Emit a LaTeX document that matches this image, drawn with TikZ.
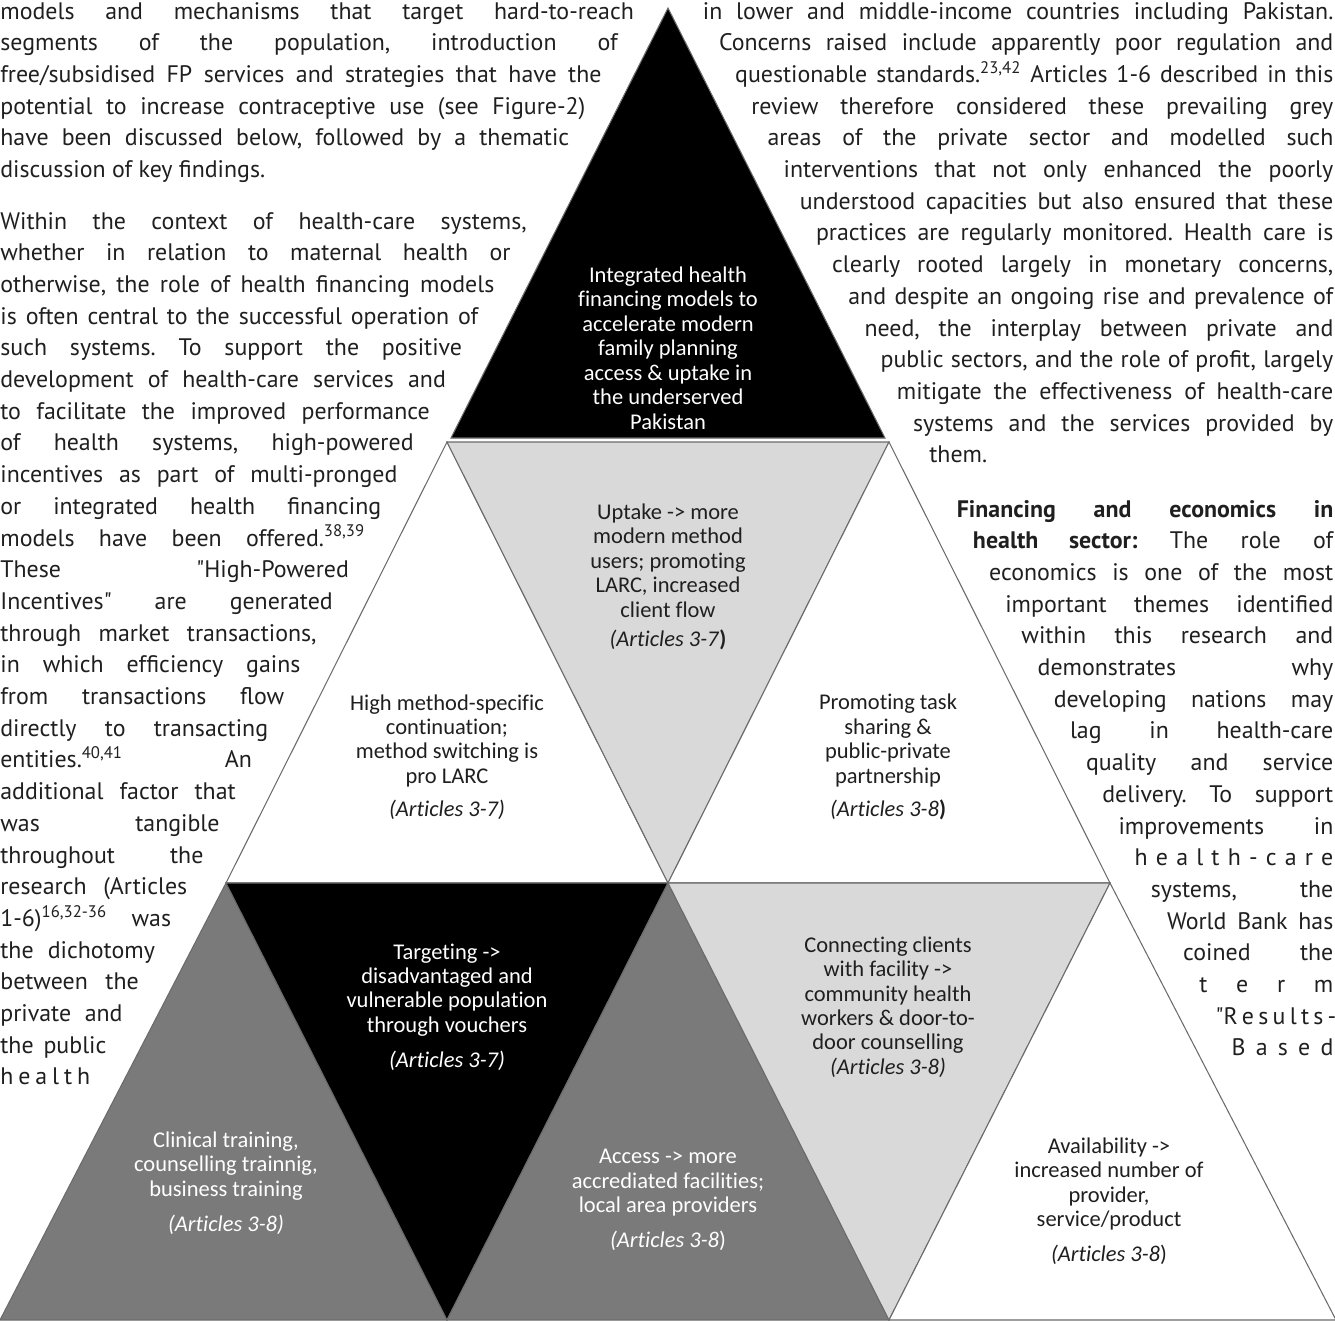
\documentclass[tikz,border=0pt]{standalone}
\usepackage{fontspec}
\setmainfont{PT Sans}
\newfontfamily\cellfont[Ligatures=NoCommon]{Carlito}
\newlength{\pxu}
\setlength{\pxu}{0.02cm}
\frenchspacing
\definecolor{cellblack}{gray}{0}
\definecolor{celldark}{gray}{0.48}
\definecolor{celllight}{gray}{0.85}
\definecolor{celledge}{gray}{0.42}
\definecolor{bodytext}{gray}{0.12}
\tikzset{
  cell/.style={draw=celledge, line width=0.6pt},
  bodyrow/.style={inner sep=0pt, anchor=base west, text=bodytext, font=\fontsize{13.6}{16}\selectfont},
  celltext/.style={align=center, inner sep=0pt, font=\cellfont\fontsize{12.8}{13.9}\selectfont},
}
\begin{document}
\begin{tikzpicture}[x=0.02cm, y=-0.02cm]
      \useasboundingbox (0,0) rectangle (1335,1320);
      \coordinate (a) at (668,8);
      \coordinate (b1) at (451,438);
      \coordinate (b2) at (885,438);
      \coordinate (c1) at (447,442);
      \coordinate (c2) at (889,442);
      \coordinate (d1) at (226,883);
      \coordinate (d2) at (668,883);
      \coordinate (d3) at (1110,883);
      \coordinate (e1) at (0,1320);
      \coordinate (e2) at (447,1320);
      \coordinate (e3) at (889,1320);
      \coordinate (e4) at (1336,1320);
      \filldraw[cell, fill=cellblack] (a) -- (b1) -- (b2) -- cycle;
      \filldraw[cell, fill=white] (c1) -- (d1) -- (d2) -- cycle;
      \filldraw[cell, fill=celllight] (c1) -- (c2) -- (d2) -- cycle;
      \filldraw[cell, fill=white] (c2) -- (d2) -- (d3) -- cycle;
      \filldraw[cell, fill=celldark] (d1) -- (e1) -- (e2) -- cycle;
      \filldraw[cell, fill=cellblack] (d1) -- (d2) -- (e2) -- cycle;
      \filldraw[cell, fill=celldark] (d2) -- (e2) -- (e3) -- cycle;
      \filldraw[cell, fill=celllight] (d2) -- (d3) -- (e3) -- cycle;
      \filldraw[cell, fill=white] (d3) -- (e3) -- (e4) -- cycle;
      \node[celltext, text=white] (goal) at (668,348) {Integrated health\\financing models to\\accelerate modern\\family planning\\access \& uptake in\\the underserved\\Pakistan};
      \node[celltext, text=bodytext] (uptake) at (668,577) {Uptake -> more\\modern method\\users; promoting\\LARC, increased\\client flow\\[3pt]\textit{(Articles 3-7}\textbf{)}};
      \node[celltext, text=bodytext] (continuation) at (447,757) {High method-specific\\continuation;\\method switching is\\pro LARC\\[5pt]\textit{(Articles 3-7)}};
      \node[celltext, text=bodytext] (tasksharing) at (888,757) {Promoting task\\sharing \&\\public-private\\partnership\\[5pt]\textit{(Articles 3-8}\textbf{)}};
      \node[celltext, text=white] (training) at (226,1183) {Clinical training,\\counselling trainnig,\\business training\\[6pt]\textit{(Articles 3-8)}};
      \node[celltext, text=white] (targeting) at (447,1007) {Targeting ->\\disadvantaged and\\vulnerable population\\through vouchers\\[6pt]\textit{(Articles 3-7)}};
      \node[celltext, text=white] (access) at (668,1200) {Access -> more\\accrediated facilities;\\local area providers\\[6pt]\textit{(Articles 3-8})};
      \node[celltext, text=bodytext] (connecting) at (888,1007) {Connecting clients\\with facility ->\\community health\\workers \& door-to-\\door counselling\\\textit{(Articles 3-8)}};
      \node[celltext, text=bodytext] (availability) at (1109,1201) {Availability ->\\increased number of\\provider,\\service/product\\[6pt]\textit{(Articles 3-8})};
      \foreach \txt [count=\n from 0] in {
          {models and mechanisms that target hard-to-reach},
          {segments of the population, introduction of},
          {free/subsidised FP services and strategies that have the},
          {potential to increase contraceptive use (see Figure-2)},
          {have been discussed below, followed by a thematic}}{
        \pgfmathsetmacro{\yb}{19+31.7*\n}
        \pgfmathsetmacro{\rowwidth}{643.2-0.51*\yb}
        \node[bodyrow] (la\n) at (0,\yb) {\makebox[\rowwidth\pxu][s]{\txt}};
      }
      \node[bodyrow] (la5) at (0,177.5) {discussion of key findings.};
      \foreach \txt [count=\n from 0] in {
          {Within the context of health-care systems,},
          {whether in relation to maternal health or},
          {otherwise, the role of health financing models},
          {is often central to the successful operation of},
          {such systems. To support the positive},
          {development of health-care services and},
          {to facilitate the improved performance},
          {of health systems, high-powered},
          {incentives as part of multi-pronged},
          {or integrated health financing},
          {models have been offered.\textsuperscript{38,39}},
          {These \textquotedbl High-Powered},
          {Incentives\textquotedbl{} are generated},
          {through market transactions,},
          {in which efficiency gains},
          {from transactions flow},
          {directly to transacting},
          {entities.\textsuperscript{40,41} An},
          {additional factor that},
          {was tangible},
          {throughout the},
          {research (Articles},
          {1-6)\textsuperscript{16,32-36} was},
          {the dichotomy},
          {between the},
          {private and},
          {the public},
          {h e a l t h}}{
        \pgfmathsetmacro{\yb}{229+31.7*\n}
        \pgfmathsetmacro{\rowwidth}{643.2-0.51*\yb}
        \node[bodyrow] (lb\n) at (0,\yb) {\makebox[\rowwidth\pxu][s]{\txt}};
      }
      \foreach \txt [count=\n from 0] in {
          {in lower and middle-income countries including Pakistan.},
          {Concerns raised include apparently poor regulation and},
          {questionable standards.\textsuperscript{23,42} Articles 1-6 described in this},
          {review therefore considered these prevailing grey},
          {areas of the private sector and modelled such},
          {interventions that not only enhanced the poorly},
          {understood capacities but also ensured that these},
          {practices are regularly monitored. Health care is},
          {clearly rooted largely in monetary concerns,},
          {and despite an ongoing rise and prevalence of},
          {need, the interplay between private and},
          {public sectors, and the role of profit, largely},
          {mitigate the effectiveness of health-care},
          {systems and the services provided by}}{
        \pgfmathsetmacro{\yb}{19+31.7*\n}
        \pgfmathsetmacro{\xl}{692.8+0.51*\yb}
        \pgfmathsetmacro{\rowwidth}{1333-\xl}
        \node[bodyrow] (ra\n) at (\xl,\yb) {\makebox[\rowwidth\pxu][s]{\txt}};
      }
      \node[bodyrow] (ra14) at (929,462.8) {them.};
      \foreach \txt [count=\n from 0] in {
          {\textbf{Financing and economics in}},
          {\textbf{health sector:} The role of},
          {economics is one of the most},
          {important themes identified},
          {within this research and},
          {demonstrates why},
          {developing nations may},
          {lag in health-care},
          {quality and service},
          {delivery. To support},
          {improvements in},
          {h e a l t h - c a r e},
          {systems, the},
          {World Bank has},
          {coined the},
          {t e r m},
          {\textquotedbl R e s u l t s -},
          {B a s e d}}{
        \pgfmathsetmacro{\yb}{517+31.7*\n}
        \pgfmathsetmacro{\xl}{692.8+0.51*\yb}
        \pgfmathsetmacro{\rowwidth}{1333-\xl}
        \node[bodyrow] (rb\n) at (\xl,\yb) {\makebox[\rowwidth\pxu][s]{\txt}};
      }
    \end{tikzpicture}
\end{document}
